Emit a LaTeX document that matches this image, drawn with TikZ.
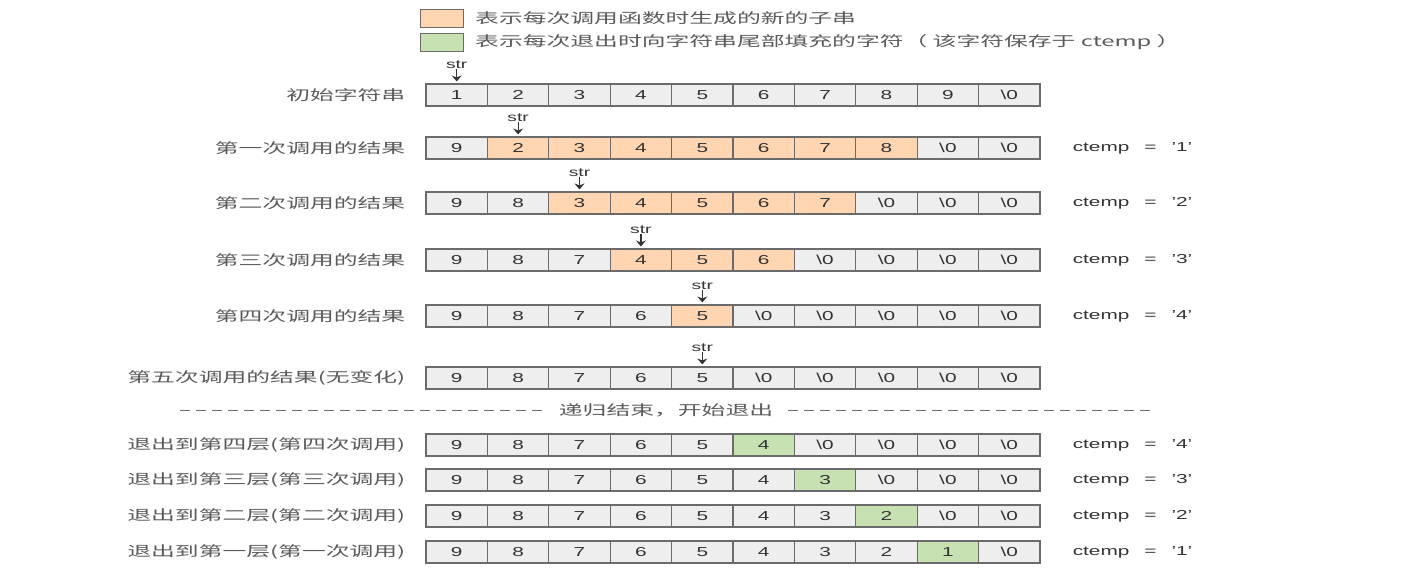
\documentclass[tikz,border=0pt]{standalone}
\usepackage{fontspec}
\setmainfont[FakeStretch=1.6]{Liberation Sans}
\newfontfamily\cjk[FakeStretch=1.7]{Noto Sans CJK SC}
\usetikzlibrary{arrows.meta}
\definecolor{cellG}{HTML}{EEEEEE}
\definecolor{cellO}{HTML}{FFD6B1}
\definecolor{cellN}{HTML}{C8E1B3}
\definecolor{edgec}{HTML}{6B6B6B}
\definecolor{txt}{HTML}{333333}
\definecolor{lbl}{HTML}{5A5A5A}
\newcommand\zz{\textbackslash 0}
\newcommand\cellrow[3]{%
  \foreach \v/\f [count=\i] in {#3}{
    \node[cellbox, fill=cell\f] (r#1c\i) at ({426+61.4*(\i-0.5)}, #2) {\v};
  }}
\newcommand\strptr[2]{%
  \node[strlbl] (s#1) at ([yshift=19pt]r#1c#2.north) {str};
  \draw[ptr] (s#1.south) -- ([yshift=2pt]r#1c#2.north);}
\newcommand\rowlbl[2]{%
  \node[rowtxt] (l#1) at ([xshift=-20pt]r#1c1.west) {#2};}
\newcommand\ctemp[2]{%
  \node[cttxt] (t#1) at ([xshift=32pt]r#1c10.east) {ctemp\hspace{15pt}=\hspace{15pt}'#2'};}
\tikzset{
  cellbox/.style={draw=edgec, line width=1.1pt, minimum width=61.4pt, minimum height=22pt,
    inner sep=0pt, text=txt, font=\fontsize{13}{15}\selectfont},
  strlbl/.style={inner sep=0pt, text=txt, font=\fontsize{12}{14}\selectfont},
  ptr/.style={draw=txt, line width=1.2pt, -{Stealth[length=6pt,width=10pt,inset=2pt]}},
  rowtxt/.style={anchor=east, inner sep=0pt, text=lbl, font=\cjk\fontsize{14}{16}\selectfont},
  cttxt/.style={anchor=west, inner sep=0pt, text=txt, font=\fontsize{13}{15}\selectfont},
  legbox/.style={draw=edgec, line width=1pt, minimum width=43pt, minimum height=18pt, inner sep=0pt},
  legtxt/.style={anchor=west, inner sep=0pt, text=lbl, font=\cjk\fontsize{14}{16}\selectfont},
  sepline/.style={draw=edgec, line width=0.8pt, dash pattern=on 10pt off 6pt}
}
\begin{document}
\begin{tikzpicture}[x=1pt,y=-1pt]
\useasboundingbox (0,0) rectangle (1426,574);
% legend
\node[legbox, fill=cellO] (lo) at (441.5,18) {};
\node[legtxt] (lot) at (475,18) {表示每次调用函数时生成的新的子串};
\node[legbox, fill=cellN] (ln) at (441.5,42.5) {};
\node[legtxt] (lnt) at (475,42.5) {表示每次退出时向字符串尾部填充的字符（ 该字符保存于 ctemp ）};
% rows
\cellrow{0}{95}{1/G,2/G,3/G,4/G,5/G,6/G,7/G,8/G,9/G,\zz/G}
\rowlbl{0}{初始字符串}
\strptr{0}{1}
\cellrow{1}{148}{9/G,2/O,3/O,4/O,5/O,6/O,7/O,8/O,\zz/G,\zz/G}
\rowlbl{1}{第一次调用的结果}
\strptr{1}{2}
\ctemp{1}{1}
\cellrow{2}{203}{9/G,8/G,3/O,4/O,5/O,6/O,7/O,\zz/G,\zz/G,\zz/G}
\rowlbl{2}{第二次调用的结果}
\strptr{2}{3}
\ctemp{2}{2}
\cellrow{3}{260}{9/G,8/G,7/G,4/O,5/O,6/O,\zz/G,\zz/G,\zz/G,\zz/G}
\rowlbl{3}{第三次调用的结果}
\strptr{3}{4}
\ctemp{3}{3}
\cellrow{4}{316}{9/G,8/G,7/G,6/G,5/O,\zz/G,\zz/G,\zz/G,\zz/G,\zz/G}
\rowlbl{4}{第四次调用的结果}
\strptr{4}{5}
\ctemp{4}{4}
\cellrow{5}{378}{9/G,8/G,7/G,6/G,5/G,\zz/G,\zz/G,\zz/G,\zz/G,\zz/G}
\rowlbl{5}{第五次调用的结果(无变化)}
\strptr{5}{5}
% separator
\coordinate (d1) at (180,410);
\coordinate (d2) at (545,410);
\coordinate (d3) at (788,410);
\coordinate (d4) at (1155,410);
\draw[sepline] (d1) -- (d2);
\draw[sepline] (d3) -- (d4);
\node[inner sep=0pt, text=lbl, font=\cjk\fontsize{14}{16}\selectfont] (sep) at (666,410) {递归结束，开始退出};
% return rows
\cellrow{6}{445}{9/G,8/G,7/G,6/G,5/G,4/N,\zz/G,\zz/G,\zz/G,\zz/G}
\rowlbl{6}{退出到第四层(第四次调用)}
\ctemp{6}{4}
\cellrow{7}{480}{9/G,8/G,7/G,6/G,5/G,4/G,3/N,\zz/G,\zz/G,\zz/G}
\rowlbl{7}{退出到第三层(第三次调用)}
\ctemp{7}{3}
\cellrow{8}{516}{9/G,8/G,7/G,6/G,5/G,4/G,3/G,2/N,\zz/G,\zz/G}
\rowlbl{8}{退出到第二层(第二次调用)}
\ctemp{8}{2}
\cellrow{9}{552}{9/G,8/G,7/G,6/G,5/G,4/G,3/G,2/G,1/N,\zz/G}
\rowlbl{9}{退出到第一层(第一次调用)}
\ctemp{9}{1}
\end{tikzpicture}
\end{document}
